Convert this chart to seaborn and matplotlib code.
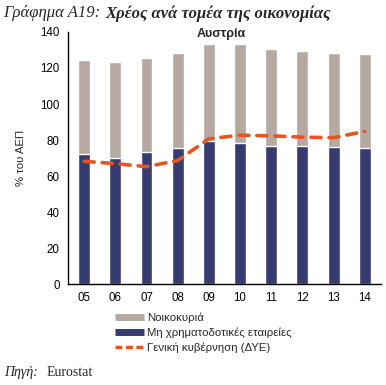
import matplotlib
matplotlib.use("Agg")
import matplotlib.pyplot as plt
from matplotlib.lines import Line2D
import seaborn as sns
import pandas as pd
import numpy as np

years = ["05", "06", "07", "08", "09", "10", "11", "12", "13", "14"]
corporations = [72.0, 70.3, 73.1, 75.3, 79.4, 78.1, 76.9, 76.9, 76.4, 75.8]
households = [52.4, 53.0, 52.4, 53.0, 53.9, 55.2, 53.6, 52.5, 51.9, 51.9]
government = [68.2, 66.9, 65.2, 68.6, 80.7, 82.7, 82.3, 81.6, 81.3, 84.8]

c_house = "#B5A9A2"
c_corp = "#363B70"
c_gov = "#E8561E"

sns.set_style("white")
plt.rcParams["font.family"] = ["Liberation Sans", "DejaVu Sans"]

df = pd.DataFrame({"year": years, "corp": corporations, "house": households, "gov": government})
df["total"] = df["corp"] + df["house"]

fig = plt.figure(figsize=(3.86, 3.85), dpi=100)
ax = fig.add_axes([0.176, 0.262, 0.811, 0.655])

sns.barplot(data=df, x="year", y="total", color=c_house, width=0.38, ax=ax, saturation=1)
sns.barplot(data=df, x="year", y="corp", color=c_corp, width=0.38, ax=ax, saturation=1)
ax.plot(np.arange(len(years)), df["gov"], color=c_gov, lw=2.6, ls=(0, (2.8, 2.2)),
        dash_capstyle="round", clip_on=False)

ax.set_xlim(-0.52, 9.52)
ax.set_ylim(0, 140)
ax.set_yticks(range(0, 141, 20))
ax.tick_params(axis="both", length=0, labelsize=8.3, colors="black", pad=6)
ax.set_xlabel("")
ax.set_ylabel("% του ΑΕΠ", fontsize=8.2, labelpad=2)
ax.yaxis.set_label_coords(-0.135, 0.5)
for s in ["top", "right"]:
    ax.spines[s].set_visible(False)
for s in ["left", "bottom"]:
    ax.spines[s].set_color("black")
    ax.spines[s].set_linewidth(1.0)
ax.text(0.49, 0.99, "Αυστρία", transform=ax.transAxes, fontsize=9, fontweight="bold",
        ha="center", va="center")

handles = [
    Line2D([0], [0], color=c_house, lw=5, solid_capstyle="butt"),
    Line2D([0], [0], color=c_corp, lw=5, solid_capstyle="butt"),
    Line2D([0], [0], color=c_gov, lw=2.5, ls=(0, (2.0, 1.0))),
]
labels = ["Νοικοκυριά", "Μη χρηματοδοτικές εταιρείες", "Γενική κυβέρνηση (ΔΥΕ)"]
fig.legend(handles, labels, loc="upper left", bbox_to_anchor=(0.298, 0.188), frameon=False,
           fontsize=8.2, handlelength=2.55, handletextpad=0.25, labelspacing=0.38, borderpad=0,
           borderaxespad=0)

t1 = fig.text(0.008, 0.987, "Γράφημα Α19:", family="Liberation Serif", style="italic",
              fontsize=12, va="top")
fig.canvas.draw()
bb = t1.get_window_extent(renderer=fig.canvas.get_renderer())
x2 = (bb.x1 + 5) / fig.bbox.width
fig.text(x2, 0.987, "Χρέος ανά τομέα της οικονομίας", family="Liberation Serif", style="italic",
         fontweight="bold", fontsize=12, va="top")
t3 = fig.text(0.01, 0.033, "Πηγή:", family="Liberation Serif", style="italic", fontsize=10,
              va="center")
fig.canvas.draw()
bb3 = t3.get_window_extent(renderer=fig.canvas.get_renderer())
fig.text((bb3.x1 + 9) / fig.bbox.width, 0.033, "Eurostat", family="Liberation Serif",
         fontsize=10, va="center")

fig.savefig("out.png", dpi=100)
